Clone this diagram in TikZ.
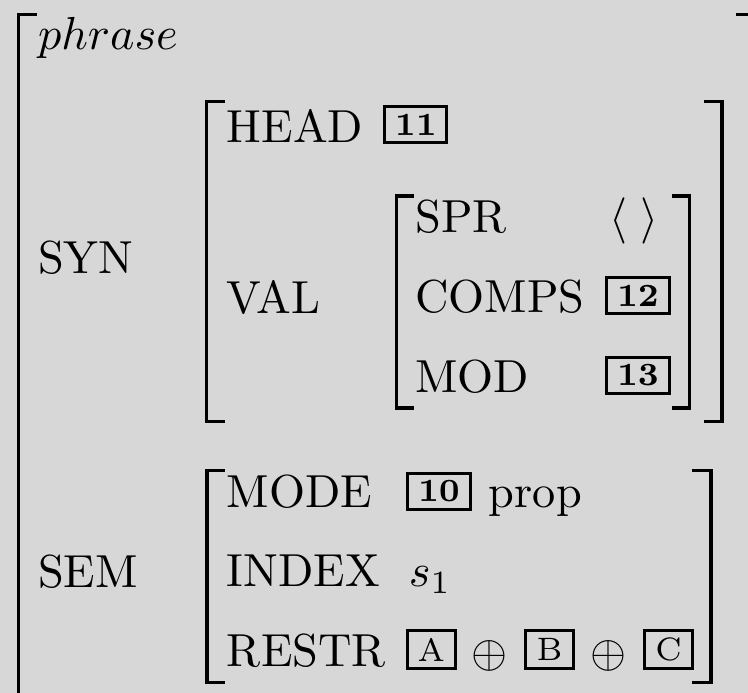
\documentclass[tikz,border=0pt]{standalone}
\definecolor{bg}{RGB}{215,215,215}
\begin{document}
\begin{tikzpicture}[x=0.216pt,y=-0.216pt,
  every node/.style={inner sep=0pt,outer sep=0pt},
  lbl/.style={anchor=base west},
  tagbox/.style={draw,line width=0.65pt,minimum width=13.4pt,minimum height=7.7pt,font=\scriptsize\bfseries},
  letbox/.style={draw,line width=0.65pt,minimum width=10.4pt,minimum height=8.1pt,font=\scriptsize},
  brk/.style={line width=0.85pt}]
\fill[bg] (0,0) rectangle (748,693);
\useasboundingbox (0,0) rectangle (748,693);
\clip (0,0) rectangle (748,693);
% outer brackets
\draw[brk] (37,14.5) -- (18.5,14.5) -- (18.5,700);
\draw[brk] (736,14.5) -- (753,14.5) -- (753,700);
% SYN brackets
\draw[brk] (225,101.5) -- (206.5,101.5) -- (206.5,421.5) -- (225,421.5);
\draw[brk] (704,101.5) -- (722,101.5) -- (722,421.5) -- (704,421.5);
% VAL brackets
\draw[brk] (414,196) -- (396.5,196) -- (396.5,408) -- (414,408);
\draw[brk] (672,196) -- (689.5,196) -- (689.5,408) -- (672,408);
% SEM brackets
\draw[brk] (225,470.5) -- (207,470.5) -- (207,682.5) -- (225,682.5);
\draw[brk] (692,470.5) -- (711,470.5) -- (711,682.5) -- (692,682.5);
% texts
\node[lbl] (phrase) at (38,50) {$phrase$};
\node[lbl] (syn) at (38,273.3) {SYN};
\node[lbl] (sem) at (38,587.5) {SEM};
\node[lbl] (head) at (227,142.7) {HEAD};
\node[tagbox] (t11) at (415.8,124.8) {11};
\node[lbl] (val) at (227,313.3) {VAL};
\node[lbl] (spr) at (415.5,232.7) {SPR};
\node[lbl] (sprv) at (610,232.7) {$\langle\;\rangle$};
\node[lbl] (comps) at (415.5,312.7) {COMPS};
\node[tagbox] (t12) at (638,295.5) {12};
\node[lbl] (mod) at (415.5,392.7) {MOD};
\node[tagbox] (t13) at (638,375.2) {13};
\node[lbl] (mode) at (227,508) {MODE};
\node[tagbox] (t10) at (439,491.5) {10};
\node[lbl] (prop) at (489,508) {prop};
\node[lbl] (index) at (227,586.5) {INDEX};
\node[lbl] (s1) at (409,586.5) {$s_1$};
\node[lbl] (restr) at (227,666.3) {RESTR};
\node[letbox] (ta) at (431.2,649.7) {A};
\node (op1) at (490,656) {$\oplus$};
\node[letbox] (tb) at (549.5,649.7) {B};
\node (op2) at (608.5,656) {$\oplus$};
\node[letbox] (tc) at (668.5,649.7) {C};
\end{tikzpicture}
\end{document}
